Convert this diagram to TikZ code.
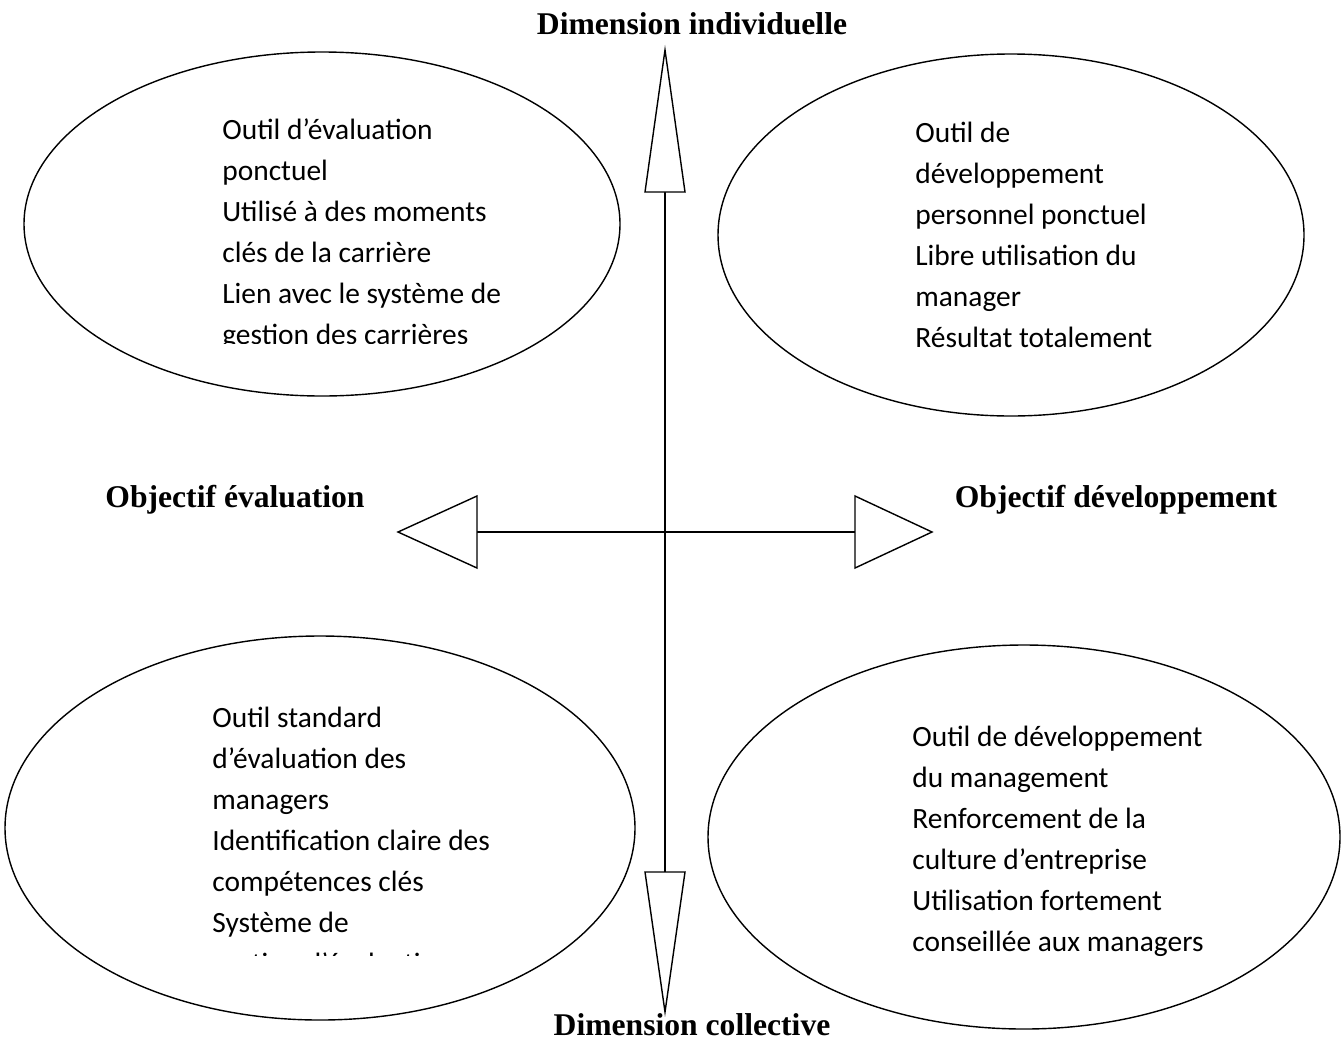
\documentclass[tikz,border=0pt]{standalone}
\usepackage{fontspec}
\setmainfont{Carlito}
\newfontfamily\labelfont{Liberation Serif}
\usetikzlibrary{calc,positioning}

\begin{document}
\begin{tikzpicture} [x=0.02cm,y=-0.02cm,{bulle/.style={draw=black,line width=0.8pt}},{texte/.style={anchor=base west,inner sep=0pt,text width=8cm,align=flush left,font=\fontsize{16.75}{23.4}\selectfont}},{titre/.style={anchor=base,inner sep=0pt,font=\labelfont\bfseries\fontsize{18}{21}\selectfont}},{pointe/.style={draw=black,line width=0.8pt,fill=white,line join=miter}},{axev/.style={black,line width=0.8pt}},{axeh/.style={black,line width=1.4pt}}]
	\useasboundingbox (0,0) rectangle (1344,1041);
	%%coordinates of axes
	\coordinate (O) at (665,532);
	\coordinate (Nt) at (665,50);
	\coordinate (Nb) at (665,192);
	\coordinate (St) at (665,1012);
	\coordinate (Sb) at (665,872);
	\coordinate (Wt) at (398,532);
	\coordinate (Wb) at (477,532);
	\coordinate (Et) at (932,532);
	\coordinate (Eb) at (855,532);

	%% ellipses
	\draw [bulle] (322,224) ellipse [x radius=298, y radius=172];
	\draw [bulle] (1011,235) ellipse [x radius=293, y radius=181];
	\draw [bulle] (320,828) ellipse [x radius=315, y radius=192];
	\draw [bulle] (1024,837) ellipse [x radius=316, y radius=192];

	%% texts
	\begin{scope}
		\clip (200,90) rectangle (640,343);
		\node [texte] (evalind) at (222,139) {Outil d’évaluation\\ponctuel\\Utilisé à des moments\\clés de la carrière\\Lien avec le système de\\gestion des carrières};
	\end{scope}
	\node [texte] (devind) at (915,142) {Outil de\\développement\\personnel ponctuel\\Libre utilisation du\\manager\\Résultat totalement};
	\begin{scope}
		\clip (190,680) rectangle (640,955);
		\node [texte] (evalcol) at (212,727) {Outil standard\\d’évaluation des\\managers\\Identification claire des\\compétences clés\\Système de\\gestion d’évaluation};
	\end{scope}
	\node [texte] (devcol) at (912,746) {Outil de développement\\du management\\Renforcement de la\\culture d’entreprise\\Utilisation fortement\\conseillée aux managers};

	%% axes
	\draw [axev] (Nb) -- (Sb);
	\draw [axeh] (Wb) -- (Eb);
	\draw [pointe] (Nt) -- ($(Nb)+(-20,0)$) -- ($(Nb)+(20,0)$) -- cycle;
	\draw [pointe] (St) -- ($(Sb)+(-20,0)$) -- ($(Sb)+(20,0)$) -- cycle;
	\draw [pointe] (Wt) -- ($(Wb)+(0,-36)$) -- ($(Wb)+(0,36)$) -- cycle;
	\draw [pointe] (Et) -- ($(Eb)+(0,-36)$) -- ($(Eb)+(0,36)$) -- cycle;

	%% labels
	\node [titre] (dimind) at (692,34) {Dimension individuelle};
	\node [titre] (dimcol) at (692,1035) {Dimension collective};
	\node [titre] (objeval) at (235,507) {Objectif évaluation};
	\node [titre] (objdev) at (1116,507) {Objectif développement};
\end{tikzpicture}
\end{document}
